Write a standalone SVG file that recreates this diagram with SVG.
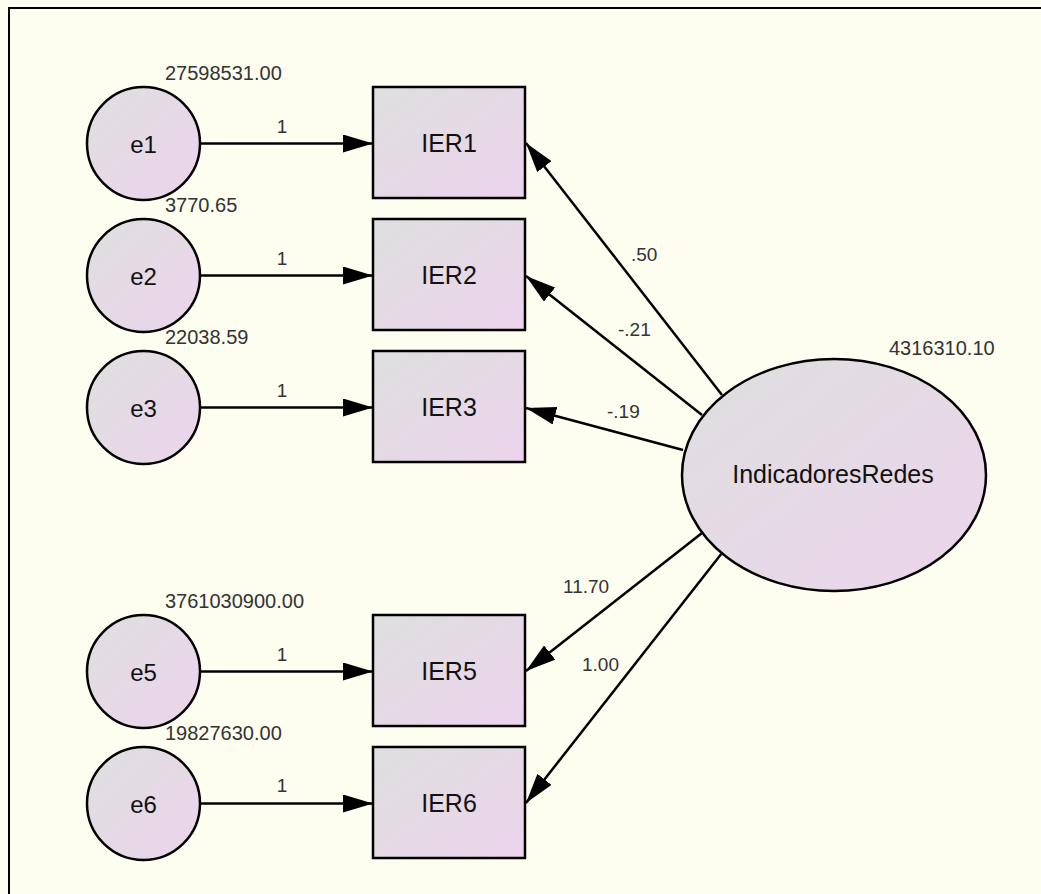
<svg xmlns="http://www.w3.org/2000/svg" width="1041" height="894" viewBox="0 0 1041 894">
<defs>
<linearGradient id="g" x1="0" y1="0" x2="1" y2="1">
<stop offset="0" stop-color="#dedfdf"/>
<stop offset="1" stop-color="#ecd4ec"/>
</linearGradient>
<marker id="ah" markerUnits="userSpaceOnUse" markerWidth="30" markerHeight="18" refX="30" refY="9" orient="auto">
<path d="M0,0 L30,9 L0,18 z" fill="#000"/>
</marker>
<style>
.n{fill:url(#g);stroke:#000;stroke-width:2.5}
.t{font-family:"Liberation Sans",Arial,sans-serif;fill:#111}
.nt{font-size:24px;text-anchor:middle}
.bt{font-size:25px;text-anchor:middle}
.v{font-size:20px;fill:#333}
.c{font-size:19px;fill:#333}
.ci{font-size:19px;fill:#333;text-anchor:middle}
#conn line{stroke:#000;stroke-width:2.5;marker-end:url(#ah)}
</style>
</defs>
<rect x="0" y="0" width="1041" height="894" fill="#fdfdf0"/>
<rect x="9" y="8" width="1100" height="1000" fill="none" stroke="#000" stroke-width="2"/>
<g id="conn">
<line x1="200" y1="143.5" x2="373" y2="143.5"/>
<line x1="200" y1="275.5" x2="373" y2="275.5"/>
<line x1="200" y1="407.5" x2="373" y2="407.5"/>
<line x1="200" y1="671.5" x2="373" y2="671.5"/>
<line x1="200" y1="803.5" x2="373" y2="803.5"/>
<line x1="722" y1="395" x2="526" y2="143"/>
<line x1="702" y1="415" x2="526" y2="276"/>
<line x1="683" y1="450" x2="526" y2="408"/>
<line x1="702" y1="533" x2="526" y2="671"/>
<line x1="722" y1="553" x2="526" y2="803"/>
</g>
<g id="labels">
<text class="t ci" x="282" y="133">1</text>
<text class="t ci" x="282" y="265">1</text>
<text class="t ci" x="282" y="397">1</text>
<text class="t ci" x="282" y="661">1</text>
<text class="t ci" x="282" y="792">1</text>
<text class="t c" x="631" y="261">.50</text>
<text class="t c" x="618" y="336">-.21</text>
<text class="t c" x="607" y="418">-.19</text>
<text class="t c" x="563" y="593">11.70</text>
<text class="t c" x="582" y="671">1.00</text>
</g>
<g id="e1"><circle class="n" cx="143.5" cy="143.5" r="56.5"/><text class="t nt" x="143.5" y="153">e1</text><text class="t v" x="165" y="80">27598531.00</text></g>
<g id="e2"><circle class="n" cx="143.5" cy="275.5" r="56.5"/><text class="t nt" x="143.5" y="285">e2</text><text class="t v" x="165" y="212">3770.65</text></g>
<g id="e3"><circle class="n" cx="143.5" cy="407.5" r="56.5"/><text class="t nt" x="143.5" y="417">e3</text><text class="t v" x="165" y="344">22038.59</text></g>
<g id="e5"><circle class="n" cx="143.5" cy="671.5" r="56.5"/><text class="t nt" x="143.5" y="681">e5</text><text class="t v" x="165" y="608">3761030900.00</text></g>
<g id="e6"><circle class="n" cx="143.5" cy="803.5" r="56.5"/><text class="t nt" x="143.5" y="813">e6</text><text class="t v" x="165" y="740">19827630.00</text></g>
<g id="IER1"><rect class="n" x="373" y="87" width="152" height="111"/><text class="t bt" x="449" y="152">IER1</text></g>
<g id="IER2"><rect class="n" x="373" y="219" width="152" height="111"/><text class="t bt" x="449" y="284">IER2</text></g>
<g id="IER3"><rect class="n" x="373" y="351" width="152" height="111"/><text class="t bt" x="449" y="416">IER3</text></g>
<g id="IER5"><rect class="n" x="373" y="615" width="152" height="111"/><text class="t bt" x="449" y="680">IER5</text></g>
<g id="IER6"><rect class="n" x="373" y="747" width="152" height="111"/><text class="t bt" x="449" y="812">IER6</text></g>
<g id="IndicadoresRedes"><ellipse class="n" cx="834" cy="475" rx="152" ry="116"/><text class="t bt" x="833" y="483">IndicadoresRedes</text><text class="t v" x="889" y="355">4316310.10</text></g>
</svg>
